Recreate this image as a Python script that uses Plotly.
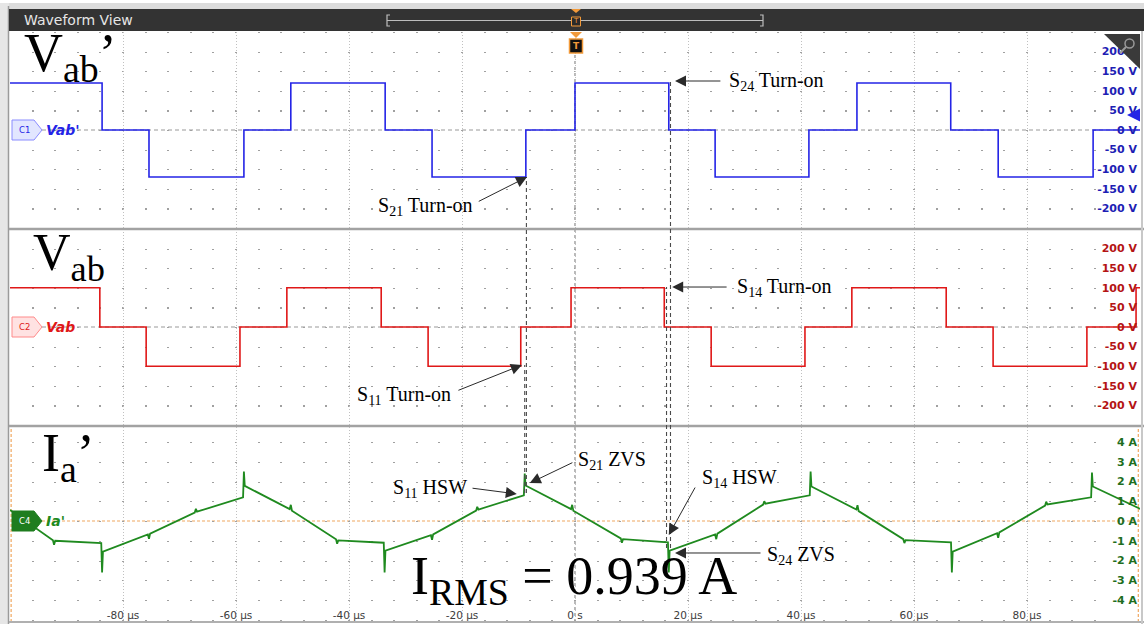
import plotly.graph_objects as go

# ---------------- data ----------------
# Vab' (channel 1) : step waveform, breakpoints in microseconds, level of each segment in volts
vabp_t = [-100, -83.7, -75.4, -58.6, -50.3, -33.6, -25.3, -8.7, 0.0, 16.6, 24.8, 41.4, 49.9, 66.5, 74.9, 91.7, 100]
vabp_v = [120, 0, -120, 0, 120, 0, -120, 0, 120, 0, -120, 0, 120, 0, -120, 0, 0]

# Vab (channel 2)
vab_t = [-100, -84.1, -75.9, -59.3, -51.0, -34.3, -26.0, -9.6, -0.7, 15.8, 24.1, 40.7, 49.0, 65.7, 74.0, 90.6, 99.3, 100]
vab_v = [100, 0, -100, 0, 100, 0, -100, 0, 100, 0, -100, 0, 100, 0, -100, 0, 100, 100]

# Ia' (channel 4) : current in amperes, read point by point (incl. switching spikes)
ia_t = [-100.0,
        -92.4, -92.2, -92.0,
        -83.85, -83.7, -83.55,
        -75.6, -75.4, -75.2,
        -67.3, -67.1, -66.9,
        -58.75, -58.6, -58.45,
        -50.5, -50.3, -50.1,
        -42.3, -42.1, -41.9,
        -33.85, -33.7, -33.55,
        -25.5, -25.3, -25.1,
        -17.5, -17.3, -17.1,
        -9.05, -8.9, -8.75,
        -0.7, -0.5, -0.3,
        8.1, 8.3, 8.5,
        16.45, 16.6, 16.75,
        24.8, 25.0, 25.2,
        33.3, 33.5, 33.7,
        41.55, 41.7, 41.85,
        49.8, 50.0, 50.2,
        58.1, 58.3, 58.5,
        66.55, 66.7, 66.85,
        74.7, 74.9, 75.1,
        83.2, 83.4, 83.6,
        91.35, 91.5, 91.65,
        99.8, 100.0]
ia_v = [0.56,
        -0.98, -1.2, -1.0,
        -1.12, -2.6, -1.55,
        -0.68, -0.9, -0.64,
        0.43, 0.62, 0.47,
        1.2, 2.5, 1.78,
        0.6, 0.82, 0.52,
        -0.93, -1.15, -0.98,
        -1.1, -2.6, -1.5,
        -0.72, -0.95, -0.68,
        0.53, 0.72, 0.58,
        1.3, 2.4, 1.8,
        0.6, 0.82, 0.52,
        -0.88, -1.1, -0.92,
        -1.08, -2.6, -1.5,
        -0.68, -0.92, -0.64,
        0.83, 1.0, 0.88,
        1.3, 2.5, 1.75,
        0.58, 0.8, 0.5,
        -0.92, -1.12, -0.97,
        -1.08, -2.6, -1.55,
        -0.62, -0.85, -0.58,
        0.78, 0.98, 0.84,
        1.2, 2.45, 1.75,
        0.65, 0.6]

x_tick_vals = [-80, -60, -40, -20, 0, 20, 40, 60, 80]
x_tick_text = ["-80 µs", "-60 µs", "-40 µs", "-20 µs", "0 s", "20 µs", "40 µs", "60 µs", "80 µs"]
v_tick_vals = [-200, -150, -100, -50, 0, 50, 100, 150, 200]
v_tick_text = [f"{v} V" for v in v_tick_vals]
a_tick_vals = [-4, -3, -2, -1, 0, 1, 2, 3, 4]
a_tick_text = [f"{v} A" for v in a_tick_vals]

# ---------------- geometry helpers (pixel -> paper) ----------------
W, H = 1144, 624
LEFT, RIGHT = 10, 1140


def PX(px):
    return (px - LEFT) / (RIGHT - LEFT)


def PY(py):
    return 1 - py / H


BLUE = "#2424e6"
RED = "#e01818"
GREEN = "#1f8a1f"
SERIF = "Liberation Serif"
SANS = "DejaVu Sans"

fig = go.Figure()
fig.add_trace(go.Scatter(x=vabp_t, y=vabp_v, mode="lines", line=dict(color=BLUE, width=1.6, shape="hv"),
                         xaxis="x", yaxis="y", hoverinfo="skip"))
fig.add_trace(go.Scatter(x=vab_t, y=vab_v, mode="lines", line=dict(color=RED, width=1.6, shape="hv"),
                         xaxis="x2", yaxis="y2", hoverinfo="skip"))
fig.add_trace(go.Scatter(x=ia_t, y=ia_v, mode="lines", line=dict(color=GREEN, width=1.8),
                         xaxis="x3", yaxis="y3", hoverinfo="skip"))


def xax(anchor, dots, labels):
    d = dict(range=[-100, 100], anchor=anchor, domain=[0, 1], showline=False, zeroline=False,
             tickvals=x_tick_vals, ticktext=x_tick_text, ticks="", showticklabels=labels,
             showgrid=True, gridcolor="#c0c0c0", gridwidth=1, griddash="1px,2px",
             minor=dict(tick0=0, dtick=4, showgrid=True, gridcolor="#a0a0a0", gridwidth=1.6, griddash=dots),
             fixedrange=True)
    if labels:
        d.update(ticklabelposition="inside", tickfont=dict(family=SANS, size=10.5, color="#3c3c3c"))
    return d


def yax(anchor, dom, rng, vals, text, color):
    return dict(domain=dom, range=rng, anchor=anchor, side="right", ticklabelposition="inside",
                tickvals=vals, ticktext=text, ticks="", showgrid=False, zeroline=False, showline=False,
                tickfont=dict(family=SANS, size=11, color=color, weight="bold"), fixedrange=True)


# panel 3: 0 A at pixel 521, 19.75 px per A, from pixel 427 to 624
p3_top = (521 - 427) / 19.75
p3_bot = -(624 - 521) / 19.75

fig.update_layout(
    width=W, height=H, margin=dict(l=LEFT, r=W - RIGHT, t=0, b=0, autoexpand=False),
    paper_bgcolor="white", plot_bgcolor="white", showlegend=False,
    xaxis=xax("y", "1.2px,18.4px", False),
    xaxis2=dict(xax("y2", "1.2px,18.4px", False), matches="x"),
    xaxis3=dict(xax("y3", "0px,15px,1.2px,3.55px", True), matches="x"),
    yaxis=yax("x", [PY(228), PY(32)], [-250, 250], v_tick_vals, v_tick_text, "#1e1eb4"),
    yaxis2=yax("x2", [PY(425), PY(229)], [-250, 250], v_tick_vals, v_tick_text, "#b41414"),
    yaxis3=yax("x3", [0, PY(427)], [p3_bot, p3_top], a_tick_vals, a_tick_text, "#1e6e1e"),
)

shapes = []
# frame / header
shapes.append(dict(type="rect", xref="paper", yref="paper", x0=PX(0), x1=PX(1144), y0=PY(9), y1=PY(3),
                   fillcolor="#dcdcdc", line=dict(width=0), layer="above"))
shapes.append(dict(type="rect", xref="paper", yref="paper", x0=PX(0), x1=PX(9), y0=PY(624), y1=PY(3),
                   fillcolor="#e6e6e6", line=dict(width=0), layer="above"))
shapes.append(dict(type="line", xref="paper", yref="paper", x0=PX(8.5), x1=PX(8.5), y0=PY(624), y1=PY(6),
                   line=dict(color="#9a9a9a", width=1.5), layer="above"))
shapes.append(dict(type="rect", xref="paper", yref="paper", x0=PX(9), x1=PX(1144), y0=PY(31), y1=PY(9),
                   fillcolor="#333333", line=dict(width=0), layer="above"))
# timeline bracket in the header
shapes.append(dict(type="path", xref="paper", yref="paper", layer="above",
                   path=f"M {PX(390)},{PY(15)} L {PX(387)},{PY(15)} L {PX(387)},{PY(26)} L {PX(390)},{PY(26)} "
                        f"M {PX(387)},{PY(20.5)} L {PX(763)},{PY(20.5)} "
                        f"M {PX(760)},{PY(15)} L {PX(763)},{PY(15)} L {PX(763)},{PY(26)} L {PX(760)},{PY(26)}",
                   line=dict(color="#bdbdbd", width=1.2)))
# trigger markers
shapes.append(dict(type="path", xref="paper", yref="paper", layer="above",
                   path=f"M {PX(571)},{PY(9)} L {PX(581)},{PY(9)} L {PX(576)},{PY(13)} Z",
                   fillcolor="#f29a3a", line=dict(width=0)))
shapes.append(dict(type="rect", xref="paper", yref="paper", layer="above",
                   x0=PX(571.5), x1=PX(580.5), y0=PY(26), y1=PY(17), fillcolor="#2a2a2a",
                   line=dict(color="#f29a3a", width=1)))
shapes.append(dict(type="path", xref="paper", yref="paper", layer="above",
                   path=f"M {PX(570)},{PY(32)} L {PX(582)},{PY(32)} L {PX(576)},{PY(38)} Z",
                   fillcolor="#f29a3a", line=dict(width=0)))
shapes.append(dict(type="rect", xref="paper", yref="paper", layer="above",
                   x0=PX(569.5), x1=PX(582.5), y0=PY(53), y1=PY(39), fillcolor="#111111",
                   line=dict(color="#f29a3a", width=1.5)))
# top-right corner triangle with magnifier
shapes.append(dict(type="path", xref="paper", yref="paper", layer="above",
                   path=f"M {PX(1104)},{PY(34)} L {PX(1140)},{PY(34)} L {PX(1140)},{PY(69)} Z",
                   fillcolor="#3a3a3a", line=dict(width=0)))
shapes.append(dict(type="circle", xref="paper", yref="paper", layer="above",
                   x0=PX(1125), x1=PX(1134), y0=PY(48), y1=PY(39), line=dict(color="#9a9a9a", width=1.5)))
shapes.append(dict(type="line", xref="paper", yref="paper", layer="above",
                   x0=PX(1126), x1=PX(1120), y0=PY(47), y1=PY(53), line=dict(color="#9a9a9a", width=2)))
# panel separators and bottom border
for py in (229, 426):
    shapes.append(dict(type="line", xref="paper", yref="paper", x0=PX(9), x1=PX(1144), y0=PY(py), y1=PY(py),
                       line=dict(color="#a2a2a2", width=2.5), layer="above"))
shapes.append(dict(type="line", xref="paper", yref="paper", x0=PX(9), x1=PX(1144), y0=PY(622), y1=PY(622),
                   line=dict(color="#b0b0b0", width=2), layer="above"))
shapes.append(dict(type="line", xref="paper", yref="paper", x0=PX(1142), x1=PX(1142), y0=PY(624), y1=PY(31),
                   line=dict(color="#c8c8c8", width=2), layer="above"))
# zero-reference lines
shapes.append(dict(type="line", xref="paper", yref="y", x0=PX(42), x1=1, y0=0, y1=0,
                   line=dict(color="#9a9a9a", width=1.2, dash="4px,3px"), layer="between"))
shapes.append(dict(type="line", xref="paper", yref="y2", x0=PX(42), x1=1, y0=0, y1=0,
                   line=dict(color="#9a9a9a", width=1.2, dash="4px,3px"), layer="between"))
shapes.append(dict(type="line", xref="paper", yref="y3", x0=PX(42), x1=1, y0=0, y1=0,
                   line=dict(color="#f0a860", width=1.2, dash="3px,2px"), layer="between"))
# orange cursors at the panel-3 edges
for xv in (-99.8, 99.7):
    shapes.append(dict(type="line", xref="x3", yref="paper", x0=xv, x1=xv, y0=PY(622), y1=PY(428),
                       line=dict(color="#f0a860", width=1.2, dash="3px,2px"), layer="between"))
# trigger time line (0 s)
shapes.append(dict(type="line", xref="x", yref="paper", x0=0, x1=0, y0=PY(622), y1=PY(53),
                   line=dict(color="#8c8c8c", width=1.2, dash="3px,3px"), layer="between"))
# black dashed guide lines between the panels
guides = [(-8.6, 177, 493), (-8.9, 365, 493), (16.9, 81, 548), (16.2, 287, 548)]
for xv, ya, yb in guides:
    shapes.append(dict(type="line", xref="x", yref="paper", x0=xv, x1=xv, y0=PY(yb), y1=PY(ya),
                       line=dict(color="#4a4a4a", width=1.1, dash="4px,3px"), layer="above"))


# channel markers
def marker(cy, fill, edge):
    return dict(type="path", xref="paper", yref="paper", layer="above",
                path=f"M {PX(12)},{PY(cy - 10)} L {PX(34)},{PY(cy - 10)} L {PX(42)},{PY(cy)} "
                     f"L {PX(34)},{PY(cy + 10)} L {PX(12)},{PY(cy + 10)} Z",
                fillcolor=fill, line=dict(color=edge, width=1))


shapes.append(marker(130, "#e2e6ff", "#8a8cff"))
shapes.append(marker(327, "#ffe2e2", "#ff8a8a"))
shapes.append(marker(521, "#1f7d1f", "#1f7d1f"))

fig.update_layout(shapes=shapes)

ann = []
# header texts
ann.append(dict(text="Waveform View", xref="paper", yref="paper", x=PX(22), y=PY(20.5), xanchor="left",
                yanchor="middle", showarrow=False, font=dict(family=SANS, size=14, color="#e6e6e6")))
ann.append(dict(text="T", xref="paper", yref="paper", x=PX(576), y=PY(21.5), xanchor="center",
                yanchor="middle", showarrow=False, font=dict(family=SANS, size=7, color="#f29a3a")))
ann.append(dict(text="<b>T</b>", xref="paper", yref="paper", x=PX(576), y=PY(46), xanchor="center",
                yanchor="middle", showarrow=False, font=dict(family=SANS, size=9, color="#f29a3a")))
# channel marker labels
for cy, ctext, ccol, lbl, lcol in [(130, "C1", BLUE, "Vab'", BLUE), (327, "C2", RED, "Vab", RED),
                                   (521, "C4", "white", "Ia'", GREEN)]:
    ann.append(dict(text=ctext, xref="paper", yref="paper", x=PX(24), y=PY(cy), xanchor="center",
                    yanchor="middle", showarrow=False, font=dict(family=SANS, size=8.5, color=ccol)))
    ann.append(dict(text=lbl, xref="paper", yref="paper", x=PX(44), y=PY(cy), xanchor="left",
                    yanchor="middle", showarrow=False,
                    font=dict(family=SANS, size=14, color=lcol, style="italic", weight="bold")))
# blue offset arrow at the right
ann.append(dict(text="", xref="paper", yref="paper", x=PX(1127), y=PY(115), ax=14, ay=0, showarrow=True,
                arrowhead=2, arrowsize=1.3, arrowwidth=2, arrowcolor=BLUE))

# big trace labels
ann.append(dict(text="V<sub>ab</sub>’", xref="paper", yref="paper", x=PX(22), y=PY(56), xanchor="left",
                yanchor="middle", showarrow=False, font=dict(family=SERIF, size=54, color="black")))
ann.append(dict(text="V<sub>ab</sub>", xref="paper", yref="paper", x=PX(31), y=PY(256), xanchor="left",
                yanchor="middle", showarrow=False, font=dict(family=SERIF, size=52, color="black")))
ann.append(dict(text="I<sub>a</sub>’", xref="paper", yref="paper", x=PX(40), y=PY(457), xanchor="left",
                yanchor="middle", showarrow=False, font=dict(family=SERIF, size=54, color="black")))
ann.append(dict(text="I<sub>RMS</sub> = 0.939 A", xref="paper", yref="paper", x=PX(574), y=PY(579),
                xanchor="center", yanchor="middle", showarrow=False,
                font=dict(family=SERIF, size=54, color="black")))

# event labels: (text, xref, yref, text x, text y, anchor, tip x, tip y, tail x, tail y)
events = [
    ("S<sub>24</sub> Turn-on", "x", "y", 26.9, 125, "left", 17.7, 125, 26.0, 125),
    ("S<sub>21</sub> Turn-on", "x", "y", -17.7, -196, "right", -8.5, -120, -17.3, -184),
    ("S<sub>14</sub> Turn-on", "x2", "y2", 28.3, 102, "left", 17.2, 102, 27.1, 102),
    ("S<sub>11</sub> Turn-on", "x2", "y2", -21.6, -176, "right", -9.4, -97, -20.9, -163),
    ("S<sub>11</sub> HSW", "x3", "y3", -18.8, 1.67, "right", -10.3, 1.37, -18.4, 1.67),
    ("S<sub>21</sub> ZVS", "x3", "y3", 0.2, 3.04, "left", -8.0, 1.92, -0.2, 2.99),
    ("S<sub>14</sub> HSW", "x3", "y3", 22.1, 2.13, "left", 16.6, -0.71, 21.4, 1.77),
    ("S<sub>24</sub> ZVS", "x3", "y3", 33.6, -1.77, "left", 17.7, -1.62, 33.1, -1.62),
]
for text, xr, yr, tx, ty, anc, hx, hy, sx, sy in events:
    ann.append(dict(text=text, xref=xr, yref=yr, x=tx, y=ty, xanchor=anc, yanchor="middle", showarrow=False,
                    font=dict(family=SERIF, size=20, color="black")))
    ann.append(dict(text="", xref=xr, yref=yr, x=hx, y=hy, axref=xr, ayref=yr, ax=sx, ay=sy, showarrow=True,
                    arrowhead=2, arrowsize=2.2, arrowwidth=1, arrowcolor="#2a2a2a"))

fig.update_layout(annotations=ann)

fig.write_html("out.html")
